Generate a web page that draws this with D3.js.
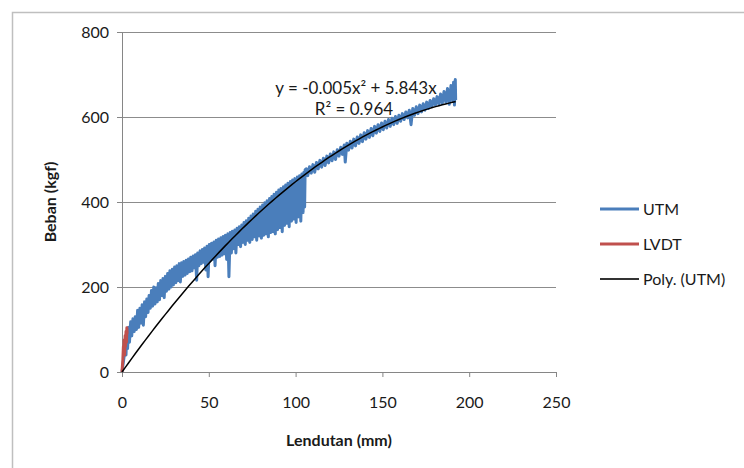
<!DOCTYPE html>
<html><head><meta charset="utf-8">
<script src="https://cdn.jsdelivr.net/npm/d3@7/dist/d3.min.js"></script>
<style>
body{margin:0;background:#fff}
svg{display:block}
text{font-family:Lato,"Open Sans",sans-serif;fill:#1a1a1a}
</style>
</head><body>
<svg id="chart" width="744" height="468"></svg>
<script>
// ---------- data ----------
const xTicks = [0, 50, 100, 150, 200, 250];
const yTicks = [0, 200, 400, 600, 800];
const seriesNames = ["UTM", "LVDT", "Poly. (UTM)"];
const equationLines = ["y = -0.005x² + 5.843x", "R² = 0.964"];
const xTitle = "Lendutan (mm)";
const yTitle = "Beban (kgf)";

const utmDeflection = [
 0.0, 2.0, 2.3, 2.8, 3.2, 3.8, 4.3, 5.0, 5.6, 6.3, 7.0, 7.6, 8.3, 9.0, 9.6, 10.3, 11.0, 11.6, 12.3, 13.0, 13.6, 14.3, 15.0, 15.6, 16.3, 17.0, 17.6, 18.3, 19.0, 19.6, 20.3,
 20.9, 21.6, 22.3, 23.0, 23.6, 24.3, 25.0, 25.6, 26.3, 27.0, 27.6, 28.3, 29.0, 29.6, 30.3, 31.0, 31.6, 32.3, 33.0, 33.6, 34.3, 35.0, 35.6, 36.3, 37.0, 37.6, 38.3, 39.0, 39.6, 40.3,
 41.0, 41.6, 42.3, 43.0, 43.6, 44.3, 45.0, 45.6, 46.3, 47.0, 47.6, 48.3, 49.0, 49.6, 50.3, 51.0, 51.6, 52.3, 53.0, 53.6, 54.3, 55.0, 55.6, 56.3, 57.0, 57.6, 58.3, 59.0, 59.6, 60.3, 61.0, 61.6, 62.3, 63.0,
 63.6, 64.3, 65.0, 65.6, 66.3, 67.0, 67.6, 68.3, 69.0, 69.6, 70.3, 71.0, 71.6, 72.3, 73.0, 73.6, 74.3, 75.0, 75.6, 76.3, 77.0, 77.6, 78.3, 79.0, 79.6, 80.3, 81.0, 81.6, 82.3, 83.0, 83.6, 84.3, 85.0, 85.6, 86.3, 87.0, 87.6, 88.3, 89.0, 89.6, 90.3, 91.0, 91.6, 92.3, 93.0, 93.6, 94.3, 95.0, 95.6, 96.3, 97.0, 97.6, 98.3, 99.0, 99.6, 100.3, 101.0, 101.6, 102.3, 103.0, 103.6, 104.3, 104.8, 105.2, 105.5,
 106.2, 107.0, 108.0, 109.0, 110.0, 111.0, 112.0, 113.0, 114.0, 115.0, 116.0, 117.0, 118.0, 119.0, 120.0, 121.0, 122.0, 123.0, 124.0, 125.0, 126.0, 127.0, 128.0, 128.6, 129.5, 130.5, 131.5, 132.5, 133.5, 134.5, 135.5, 136.5, 137.5, 138.5, 139.5, 140.5, 141.5, 142.5, 143.5, 144.5, 145.5, 146.5, 147.5, 148.5, 149.5, 150.5, 151.5, 152.5, 153.5, 154.5, 155.5, 156.5, 157.5, 158.5, 159.5, 160.5, 161.5, 162.5, 163.5, 164.5, 165.5, 166.5, 167.5, 168.5, 169.5, 170.5, 171.5, 172.5, 173.5, 174.5, 175.5, 176.5, 177.5, 178.5, 179.5, 180.5, 181.5, 182.5, 183.5, 184.5, 185.5, 186.5, 187.5, 188.5, 189.5, 190.5, 191.0, 191.5, 192.0, 192.2
];
const utmLoad = [
 0, 60, 40, 95, 55, 105, 70, 118, 85, 125, 95, 130, 100, 145, 105, 150, 115, 158, 110, 165, 130, 172, 140, 180, 150, 192, 155, 200, 160, 198, 165,
 208, 170, 215, 180, 220, 175, 225, 190, 232, 195, 238, 200, 242, 205, 247, 210, 250, 215, 255, 212, 257, 225, 260, 228, 263, 232, 266, 236, 270, 238,
 273, 245, 276, 216, 280, 250, 285, 255, 288, 258, 292, 240, 296, 224, 300, 262, 303, 265, 306, 250, 310, 270, 313, 272, 316, 275, 319, 278, 322, 265, 325, 224, 328, 280,
 331, 290, 334, 280, 338, 300, 342, 295, 346, 305, 352, 300, 356, 310, 362, 305, 367, 312, 372, 318, 378, 310, 383, 320, 388, 315, 393, 322, 398, 325, 403, 318, 408, 328, 413, 330, 418, 325, 423, 335, 428, 340, 432, 330, 436, 345, 440, 350, 444, 342, 448, 355, 452, 360, 455, 352, 459, 365, 462, 355, 466, 375, 470, 388, 476,
 478, 462, 483, 468, 488, 470, 493, 478, 498, 482, 503, 486, 508, 492, 513, 497, 518, 500, 523, 508, 529, 512, 534, 494, 538, 522, 543, 527, 548, 532, 553, 538, 558, 542, 563, 548, 568, 552, 573, 556, 578, 562, 582, 566, 586, 570, 590, 574, 594, 578, 597, 582, 601, 585, 604, 590, 608, 594, 612, 598, 616, 582, 620, 604, 624, 608, 628, 612, 631, 616, 635, 620, 639, 624, 643, 628, 648, 630, 654, 632, 660, 635, 667, 630, 674, 638, 682, 628, 688, 640
];
const lvdtDeflection = [0, 0.5, 0.8, 1.0, 1.2, 1.5, 1.8, 2.0, 2.3, 2.6, 2.8, 3.0];
const lvdtLoad       = [0, 30, 60, 50, 75, 40, 85, 60, 95, 70, 104, 90];

// ---------- layout ----------
const svg = d3.select("#chart");
const x = d3.scaleLinear().domain([0, 250]).range([122, 556]);
const y = d3.scaleLinear().domain([0, 800]).range([372, 32]);
const blue = "#4a7ebb", red = "#c0504d";

// outer frame (chart area border)
svg.append("path").attr("d", "M12.5,470 L12.5,12.5 L746,12.5")
  .attr("fill", "none").attr("stroke", "#bfbfbf").attr("stroke-width", 1.5);

// gridlines
svg.append("g").selectAll("line").data(yTicks.filter(d => d > 0)).join("line")
  .attr("x1", x(0)).attr("x2", x(250)).attr("y1", d => y(d)).attr("y2", d => y(d))
  .attr("stroke", "#8c8c8c").attr("stroke-width", 1).attr("shape-rendering", "crispEdges");

// axes
const yAxis = d3.axisLeft(y).tickValues(yTicks).tickSize(5).tickPadding(8);
const gy = svg.append("g").attr("transform", `translate(${x(0)},0)`).call(yAxis);
const xAxis = d3.axisBottom(x).tickValues(xTicks).tickSize(5).tickPadding(20);
const gx = svg.append("g").attr("transform", `translate(0,${y(0)})`).call(xAxis);
[gx, gy].forEach(g => {
  g.select(".domain").attr("stroke", "#868686");
  g.selectAll(".tick line").attr("stroke", "#868686");
  g.selectAll(".tick text").style("font-family", "Lato, 'Open Sans', sans-serif")
    .style("font-size", "16px").attr("fill", "#1a1a1a");
});

// clip
svg.append("clipPath").attr("id", "clip").append("rect")
  .attr("x", x(0) - 2).attr("y", y(800)).attr("width", x(250) - x(0) + 2).attr("height", y(0) - y(800) + 1);

const plot = svg.append("g").attr("clip-path", "url(#clip)");
const line = d3.line().x(d => x(d[0])).y(d => y(d[1]));

const utm = utmDeflection.map((d, i) => [d, utmLoad[i]]);
const lvdt = lvdtDeflection.map((d, i) => [d, lvdtLoad[i]]);

plot.append("path").datum(utm).attr("d", line).attr("fill", "none")
  .attr("stroke", blue).attr("stroke-width", 3).attr("stroke-linejoin", "round");
plot.append("path").datum(lvdt).attr("d", line).attr("fill", "none")
  .attr("stroke", red).attr("stroke-width", 3).attr("stroke-linejoin", "round");

// polynomial trendline (order 2, intercept 0) fitted by least squares on UTM data
let s2 = 0, s3 = 0, s4 = 0, sxy = 0, sx2y = 0;
utm.forEach(([a, b]) => { s2 += a*a; s3 += a*a*a; s4 += a*a*a*a; sxy += a*b; sx2y += a*a*b; });
const det = s4 * s2 - s3 * s3;
const cA = (sx2y * s2 - sxy * s3) / det;
const cB = (s4 * sxy - s3 * sx2y) / det;
const xMax = d3.max(utmDeflection);
const trend = d3.range(0, 101).map(i => { const v = xMax * i / 100; return [v, cA*v*v + cB*v]; });
plot.append("path").datum(trend).attr("d", d3.line().curve(d3.curveBasis).x(d => x(d[0])).y(d => y(d[1])))
  .attr("fill", "none").attr("stroke", "#000").attr("stroke-width", 1.5);

// equation
svg.append("text").attr("x", 356).attr("y", 94).attr("text-anchor", "middle")
  .style("font-size", "17px").text(equationLines[0]);
svg.append("text").attr("x", 354).attr("y", 115).attr("text-anchor", "middle")
  .style("font-size", "17px").text(equationLines[1]);

// axis titles
svg.append("text").attr("x", x(125)).attr("y", 446).attr("text-anchor", "middle")
  .style("font-size", "16px").style("font-weight", "bold").text(xTitle);
svg.append("text").attr("transform", `translate(50,${y(400)}) rotate(-90)`)
  .attr("text-anchor", "middle").attr("dy", "0.35em")
  .style("font-size", "16px").style("font-weight", "bold").text(yTitle);

// legend
const legendColors = [blue, red, "#333"];
const legendWidths = [3, 3, 2];
const lg = svg.append("g").selectAll("g").data(seriesNames).join("g")
  .attr("transform", (d, i) => `translate(600,${209 + i * 35})`);
lg.append("line").attr("x1", 0).attr("x2", 39).attr("y1", 0).attr("y2", 0)
  .attr("stroke", (d, i) => legendColors[i]).attr("stroke-width", (d, i) => legendWidths[i]);
lg.append("text").attr("x", 43).attr("dy", "0.35em").style("font-size", "16px").text(d => d);
</script>
</body></html>
